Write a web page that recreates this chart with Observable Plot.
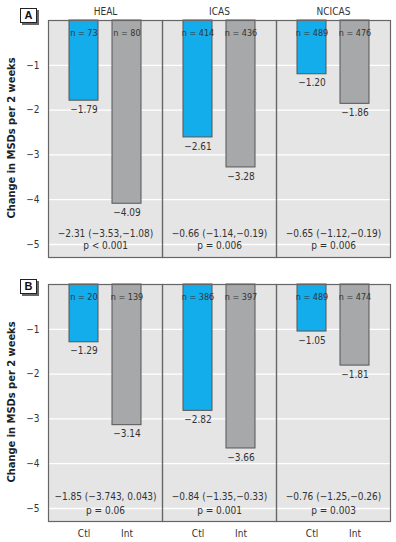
<!DOCTYPE html>
<html><head><meta charset="utf-8">
<script src="https://cdn.jsdelivr.net/npm/d3@7"></script>
<script src="https://cdn.jsdelivr.net/npm/@observablehq/plot@0.6"></script>
<style>
body{margin:0;background:#fff;}
#wrap{position:relative;width:396px;height:542px;overflow:hidden;font-family:"Liberation Sans Narrow","DejaVu Sans Condensed",sans-serif;}
.panel{position:absolute;left:0;}
.letter{position:absolute;left:20px;width:15px;height:13px;border:1.5px solid #222;background:#fff;box-shadow:2px 2px 0 #666;font:bold 11px "Liberation Sans",Arial,sans-serif;text-align:center;line-height:13px;color:#111;}
.ytitle{position:absolute;white-space:nowrap;font-weight:bold;font-size:11px;color:#222;transform:translate(-50%,-50%) rotate(-90deg);}
</style>
</head><body>
<div id="wrap">
  <div id="pa" class="panel" style="top:0px"></div>
  <div id="pb" class="panel" style="top:270px"></div>
  <div class="letter" style="top:8px">A</div>
  <div class="letter" style="top:279px">B</div>
  <div class="ytitle" style="left:11px;top:138px">Change in MSDs per 2 weeks</div>
  <div class="ytitle" style="left:11px;top:402px">Change in MSDs per 2 weeks</div>
</div>
<script>
const facets = ["HEAL", "ICAS", "NCICAS"];
const groups = ["Ctl", "Int"];
const valuesA = [-1.79, -4.09, -2.61, -3.28, -1.20, -1.86];
const nA = [73, 80, 414, 436, 489, 476];
const diffA = ["\u22122.31 (\u22123.53,\u22121.08)", "\u22120.66 (\u22121.14,\u22120.19)", "\u22120.65 (\u22121.12,\u22120.19)"];
const pA = ["p < 0.001", "p = 0.006", "p = 0.006"];
const valuesB = [-1.29, -3.14, -2.82, -3.66, -1.05, -1.81];
const nB = [20, 139, 386, 397, 489, 474];
const diffB = ["\u22121.85 (\u22123.743, 0.043)", "\u22120.84 (\u22121.35,\u22120.33)", "\u22120.76 (\u22121.25,\u22120.26)"];
const pB = ["p = 0.06", "p = 0.001", "p = 0.003"];
const yTicks = [-1, -2, -3, -4, -5];
const colors = ["#13adeb", "#a7a8aa"];

function rowsFor(values, ns, diffs, ps) {
  return values.map((v, i) => ({
    facet: facets[Math.floor(i / 2)],
    group: groups[i % 2],
    value: v,
    n: "n = " + ns[i],
    diff: diffs[Math.floor(i / 2)],
    p: ps[Math.floor(i / 2)]
  }));
}
const fmt = d3.format(".2f");
const FONT = '"Liberation Sans Narrow","DejaVu Sans Condensed",sans-serif';

function panel(rows, {height, marginTop, marginBottom, top, bottom, dDiff, dP}) {
  const svg = Plot.plot({
    width: 396, height, marginLeft: 47, marginRight: 5, marginTop, marginBottom,
    style: {fontFamily: FONT, fontSize: "10px", color: "#333", background: "transparent"},
    facet: {data: rows, x: "facet"},
    fx: {domain: facets, padding: 0, axis: top ? "top" : null, tickSize: 0, tickPadding: 6, label: null},
    x: {domain: groups, paddingInner: 0.318, paddingOuter: 0.466, axis: bottom ? "bottom" : null, tickSize: 0, tickPadding: 8, label: null},
    y: {domain: [-5.29, 0], ticks: yTicks, tickFormat: d3.format("d"), tickSize: 0, tickPadding: 9, label: null},
    color: {domain: groups, range: colors},
    marks: [
      Plot.frame({fill: "#e5e5e5"}),
      Plot.ruleY(yTicks, {stroke: "#fff", strokeWidth: 1.3}),
      Plot.barY(rows, {x: "group", y: "value", fill: "group", stroke: "#555", strokeWidth: 1}),
      Plot.text(rows, {x: "group", y: "value", text: d => fmt(d.value), dy: 9, fill: "#333", fontSize: 10}),
      Plot.text(rows, {x: "group", frameAnchor: "top", text: "n", dy: 9, fill: "#333", fontSize: 9, ariaLabel: "nlabel"}),
      Plot.text(rows, {filter: d => d.group === "Ctl", text: "diff", frameAnchor: "bottom", dy: dDiff, fill: "#333", fontSize: 10}),
      Plot.text(rows, {filter: d => d.group === "Ctl", text: "p", frameAnchor: "bottom", dy: dP, fill: "#333", fontSize: 10, ariaLabel: "plabel"}),
      Plot.frame({stroke: "#666", strokeWidth: 1.2})
    ]
  });
  const ns = "http://www.w3.org/2000/svg";
  svg.querySelectorAll('g[aria-label="nlabel"] text, g[aria-label="plabel"] text').forEach(t => {
    const s = t.textContent;
    t.textContent = "";
    const a = document.createElementNS(ns, "tspan");
    a.setAttribute("font-style", "italic");
    a.textContent = s[0];
    t.appendChild(a);
    t.appendChild(document.createTextNode(s.slice(1)));
  });
  return svg;
}

document.getElementById("pa").appendChild(panel(rowsFor(valuesA, nA, diffA, pA),
  {height: 270, marginTop: 20, marginBottom: 13, top: true, bottom: false, dDiff: -21, dP: -9}));
document.getElementById("pb").appendChild(panel(rowsFor(valuesB, nB, diffB, pB),
  {height: 272, marginTop: 14, marginBottom: 21, top: false, bottom: true, dDiff: -22, dP: -8}));
</script>
</body></html>
